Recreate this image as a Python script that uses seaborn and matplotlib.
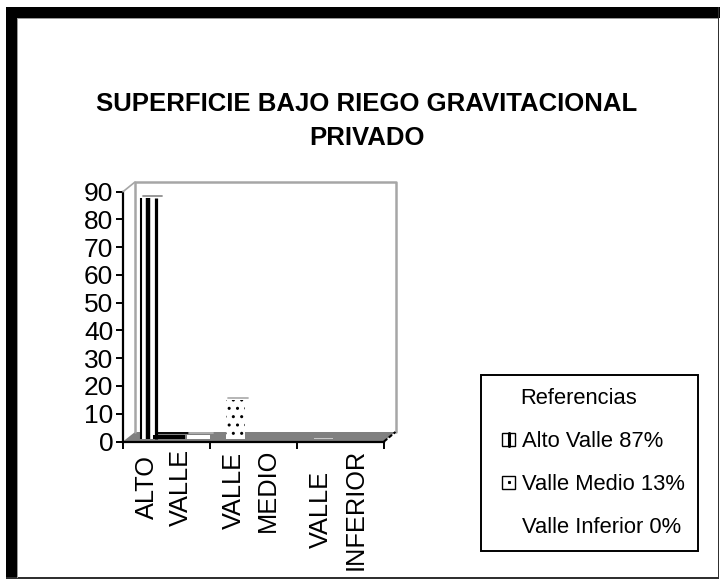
import matplotlib
matplotlib.use("Agg")
import matplotlib.pyplot as plt
import pandas as pd
import seaborn as sns
from matplotlib.legend_handler import HandlerBase
from matplotlib.lines import Line2D
from matplotlib.patches import Patch, Polygon, Rectangle
from matplotlib.transforms import Affine2D

# chart values
regiones = ["ALTO\nVALLE", "VALLE\nMEDIO", "VALLE\nINFERIOR"]
serie_principal = [87, 14, 0.3]
serie_oscura = [1.5, 0, 0]
serie_clara = [1.5, 0, 0]
ticks_y = [0, 10, 20, 30, 40, 50, 60, 70, 80, 90]
titulo = "SUPERFICIE BAJO RIEGO GRAVITACIONAL\nPRIVADO"
titulo_leyenda = "Referencias"
referencias = ["Alto Valle 87%", "Valle Medio 13%", "Valle Inferior 0%"]

sns.set_theme(style="white")
plt.rcParams["font.family"] = ["Liberation Sans", "DejaVu Sans"]
plt.rcParams["hatch.linewidth"] = 1.0

W, H = 720, 580
fig = plt.figure(figsize=(W / 100, H / 100), dpi=100, facecolor="white")
ax = fig.add_axes([123 / W, 1 - 441.5 / H, 261 / W, 249.8 / H])
ax.patch.set_alpha(0)


def caja(x0, y0, x1, y1, color="black"):
    # rectangle in pixels from the top left corner of the image
    fig.add_artist(Rectangle((x0 / W, 1 - y1 / H), (x1 - x0) / W, (y1 - y0) / H,
                             transform=fig.transFigure, facecolor=color, edgecolor="none"))


class MarcaLeyenda(HandlerBase):
    # small square at the right of the handle box, with stripe or dot inside
    def __init__(self, tipo):
        super().__init__()
        self.tipo = tipo

    def create_artists(self, legend, orig_handle, xdescent, ydescent, width, height, fontsize, trans):
        lado = 9.4  # legend handles are sized in points
        x0 = width - lado - xdescent
        y0 = (height - lado) / 2 - ydescent
        if self.tipo is None:
            return [Rectangle((x0, y0), lado, lado, facecolor="none", edgecolor="none", transform=trans)]
        marco = Rectangle((x0, y0), lado, lado, facecolor="white", edgecolor="black", lw=1.0, transform=trans)
        if self.tipo == "raya":
            extra = Line2D([x0 + lado / 2] * 2, [y0, y0 + lado], color="black", lw=2.2, transform=trans)
        else:
            extra = Line2D([x0 + lado / 2], [y0 + lado / 2], marker="s", ms=1.2, color="black", lw=0, transform=trans)
        return [marco, extra]


# black frame of the picture
caja(6, 7, 720, 18)
caja(6, 7, 17, 579)
caja(717.5, 7, 719, 579, "#303030")
caja(6, 577, 719, 578.5, "#303030")
caja(17, 18, 718, 19, "#9a9a9a")
caja(17, 18, 18, 578, "#9a9a9a")

df = pd.DataFrame({
    "region": regiones * 3,
    "valor": serie_principal + serie_oscura + serie_clara,
    "serie": ["a"] * 3 + ["b"] * 3 + ["c"] * 3,
})
sns.barplot(data=df, x="region", y="valor", hue="serie", palette=["white"] * 3,
            width=0.8, gap=0, legend=False, ax=ax, zorder=3, saturation=1)
ax.set_xlim(-0.5, 2.5)
ax.set_ylim(0, 90)

# walls and floor of the fake 3D box
prof = Affine2D().translate(11.5, 9.5)
pared = ax.transAxes + prof
ax.add_line(Line2D([0, 0, 1, 1], [0, 1, 1, 0], transform=pared, color="#a6a6a6", lw=1.8, clip_on=False, zorder=1))
fig.add_artist(Line2D([123 / W, 135 / W], [1 - 191.7 / H, 1 - 182 / H], color="#a6a6a6", lw=1.2))
piso = Polygon([(0, 0), (1, 0), (1 + 11.5 / 261, 9.5 / 249.8), (12 / 261, 9.5 / 249.8)],
               transform=ax.transAxes, facecolor="#808080", edgecolor="none", clip_on=False, zorder=0)
ax.add_patch(piso)
ax.add_line(Line2D([1, 1 + 11.5 / 261], [0, 9.5 / 249.8], transform=ax.transAxes, color="black", lw=1.5,
                   linestyle=(0, (2, 1)), clip_on=False, zorder=2))

# bars sit a little behind the axis
desplazo = ax.transData + Affine2D().translate(8.5, 2.5)
px_x = 261 / 3
a, b, c = ax.containers
for barra in list(a) + list(b) + list(c):
    barra.set_transform(desplazo)
    barra.set_clip_on(False)
    barra.set_linewidth(0)

a[0].set_width(18 / px_x)
b[0].set_x(b[0].get_x() - 10 / px_x)
b[0].set_width(32 / px_x)
b[0].set_facecolor("black")
a[1].set_x(a[1].get_x() - 1.5 / px_x)
a[1].set_width(19 / px_x)
a[1].set_hatch("..")
a[1].set_edgecolor("black")
a[2].set_width(19 / px_x)
a[2].set_facecolor("#c8c8c8")
c[0].set_edgecolor("none")

# stripes of the tall bar
x0 = a[0].get_x()
ancho = a[0].get_width()
for f, lw in zip([0.05, 0.44, 0.88], [1.5, 3.2, 2.3]):
    ax.vlines(x0 + f * ancho, 0, a[0].get_height(), colors="black", lw=lw, transform=desplazo, zorder=4, clip_on=False)

# top caps
for barra, tono in [(a[0], "#909090"), (a[1], "#b0b0b0"), (b[0], "black"), (c[0], "#b0b0b0")]:
    ax.plot([barra.get_x() + 0.03, barra.get_x() + barra.get_width() + 0.04],
            [barra.get_height() + 0.7] * 2, color=tono, lw=1.3, transform=desplazo, clip_on=False, zorder=5)

# axes
sns.despine(ax=ax)
for lado in ["left", "bottom"]:
    ax.spines[lado].set_linewidth(1.6)
    ax.spines[lado].set_color("black")
ax.set_xlabel("")
ax.set_ylabel("")
ax.set_yticks(ticks_y)
ax.tick_params(axis="y", left=True, length=5, width=1.4, color="black", pad=2, labelsize=19, labelcolor="black")
ax.set_xticks([-0.5, 0.5, 1.5, 2.5], minor=True)
ax.tick_params(axis="x", which="minor", bottom=True, length=5, width=1.4, color="black")
ax.tick_params(axis="x", which="major", bottom=False, pad=-1)
ax.set_xticks(range(3))
ax.set_xticklabels(regiones, rotation=90, fontsize=18.3, color="black", va="top", ha="center",
                   multialignment="center", linespacing=1.55)
for etiqueta in ax.get_xticklabels():
    etiqueta.set_transform(etiqueta.get_transform() + Affine2D().translate(-2.5, 0))

fig.text(367 / W, 1 - 121 / H, titulo, ha="center", va="center", fontsize=18.5, fontweight="bold",
         color="black", linespacing=1.5)

# legend
manejadores = [Patch(), Patch(), Patch()]
leyenda = fig.legend(manejadores, referencias, title=titulo_leyenda, loc="lower left",
                     bbox_to_anchor=(481 / W, 1 - 551 / H), borderaxespad=0, fontsize=15.8,
                     title_fontsize=15.8, frameon=True, fancybox=False, edgecolor="black", framealpha=1,
                     handlelength=0.97, handleheight=0.7, handletextpad=0.3, labelspacing=1.0,
                     borderpad=0.6, labelcolor="black",
                     handler_map={manejadores[0]: MarcaLeyenda("raya"),
                                  manejadores[1]: MarcaLeyenda("punto"),
                                  manejadores[2]: MarcaLeyenda(None)})
leyenda.get_frame().set_linewidth(1.4)
leyenda.get_title().set_color("black")
leyenda.get_title().set_position((-11, 0))

fig.savefig("out.png", dpi=100)
